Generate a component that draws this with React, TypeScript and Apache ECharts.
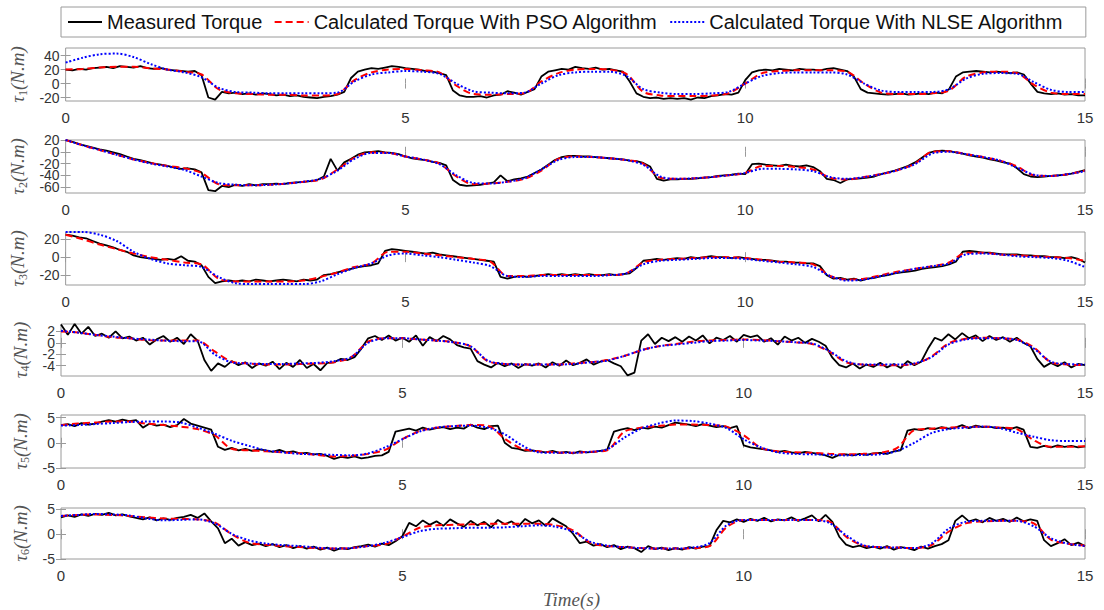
import { useEffect, useRef } from 'react';
import * as echarts from 'echarts';

// ---------- DATA ----------
const seriesNames = ['Measured Torque', 'Calculated Torque With PSO Algorithm', 'Calculated Torque With NLSE Algorithm'];
const jointIndex = ['1', '2', '3', '4', '5', '6'];
const xTickValues = [0, 5, 10, 15];
const yMins = [-25, -70, -31, -5.8, -5, -5];
const yMaxs = [51, 20, 28, 3.3, 5.5, 5.3];
const yTickValues = [[-20, 0, 20, 40], [-60, -40, -20, 0, 20], [-20, 0, 20], [-4, -2, 0, 2], [-5, 0, 5], [-5, 0, 5]];
const measuredStep = 0.1; // s
const fitStep = 0.25; // s

// measured torque, sampled every 0.1 s from 0 to 15 s
const measured1 = [
  20, 19, 21, 20, 22, 23, 24, 22, 25, 24,
  23, 25, 22, 21, 22, 20, 19, 18, 17, 18,
  12, -20, -23, -12, -14, -13, -15, -14, -16, -14,
  -15, -17, -16, -18, -17, -19, -20, -21, -19, -18,
  -16, -12, 8, 17, 20, 22, 21, 23, 25, 24,
  22, 21, 20, 18, 17, 15, 12, -10, -17, -19,
  -19, -18, -20, -17, -16, -11, -13, -16, -12, -8,
  10, 17, 19, 21, 20, 24, 22, 21, 23, 20,
  21, 19, 17, 3, -14, -19, -21, -20, -22, -21,
  -22, -21, -23, -20, -21, -18, -17, -15, -16, -13,
  5, 16, 19, 20, 19, 21, 20, 19, 21, 20,
  20, 19, 21, 22, 20, 18, 10, -8, -13, -14,
  -15, -16, -15, -14, -16, -15, -14, -15, -13, -14,
  -8, 10, 16, 17, 18, 17, 16, 17, 16, 15,
  16, 13, 0, -12, -14, -15, -14, -16, -15, -17,
  -17,
];
const measured2 = [
  20, 17, 13, 10, 7, 4, 2, -1, -4, -8,
  -12, -14, -17, -20, -22, -24, -27, -29, -28, -30,
  -35, -65, -67, -58, -60, -56, -58, -55, -57, -55,
  -55, -54, -55, -53, -52, -51, -50, -48, -42, -12,
  -32, -18, -12, -5, -1, 0, 1, -1, -2, -4,
  -8, -11, -13, -14, -17, -19, -23, -48, -56, -58,
  -57, -56, -54, -52, -40, -50, -47, -45, -42, -36,
  -30, -22, -14, -9, -7, -7, -8, -8, -9, -10,
  -11, -12, -13, -15, -16, -19, -25, -46, -49, -47,
  -47, -46, -46, -45, -44, -43, -41, -40, -39, -37,
  -38, -21, -20, -22, -23, -24, -22, -24, -25, -23,
  -26, -33, -46, -48, -53, -47, -46, -45, -44, -42,
  -38, -35, -32, -28, -24, -18, -10, -2, 1, 2,
  1, -1, -3, -6, -8, -10, -13, -15, -18, -20,
  -28, -38, -42, -43, -42, -41, -40, -39, -37, -34,
  -31,
];
const measured3 = [
  25, 24, 22, 21, 18, 15, 13, 11, 8, 6,
  2, 0, -1, -2, -3, -2, -3, 1, -4, -5,
  -9, -22, -29, -27, -26, -27, -26, -27, -25, -26,
  -27, -26, -25, -26, -27, -25, -26, -25, -20, -19,
  -17, -15, -13, -11, -10, -9, -7, 7, 9, 8,
  7, 6, 5, 4, 5, 3, 2, 1, 0, -1,
  -2, -3, -4, -5, -22, -24, -22, -21, -22, -21,
  -20, -19, -20, -19, -20, -19, -20, -19, -20, -20,
  -19, -20, -19, -18, -12, -4, -3, -2, -3, -2,
  -1, -2, 0, -1, 0, 1, 0, 0, -1, 0,
  -1, -2, -3, -3, -4, -5, -5, -6, -6, -7,
  -7, -10, -20, -24, -23, -25, -24, -26, -24, -23,
  -21, -20, -18, -17, -16, -15, -13, -12, -11, -10,
  -8, -5, 6, 7, 6, 5, 5, 4, 3, 3,
  3, 2, 2, 1, 1, 0, 0, -1, 0, -2,
  -6,
];
const measured4 = [
  3.2, 1.4, 3.3, 1.6, 2.8, 1.2, 1.6, 0.9, 2.0, 0.8,
  1.1, 0.4, 0.9, -0.3, 0.6, 1.2, 0.2, 0.9, -0.2, 1.5,
  0.4, -3.0, -4.9, -3.6, -4.2, -3.2, -3.9, -3.4, -4.4, -3.6,
  -4.0, -3.3, -4.6, -3.5, -4.2, -3.0, -4.4, -3.7, -4.8, -3.5,
  -3.4, -2.8, -3.0, -2.5, -1.0, 0.8, 1.2, 0.5, 1.3, 0.4,
  0.9, 0.2, 1.3, -0.5, 1.0, 0.3, 1.2, 0.6, -0.4, -0.8,
  -1.0, -3.2, -3.8, -4.3, -3.5, -4.1, -3.6, -4.4, -3.7, -4.0,
  -3.6, -4.3, -3.4, -4.0, -3.1, -3.9, -3.5, -2.9, -3.8, -3.3,
  -3.0, -3.6, -4.1, -5.7, -5.2, 0.4, 1.5, -0.2, 0.9, 0.3,
  1.0, 0.2, 1.1, 0.4, 1.3, -0.1, 0.9, 0.5, 1.2, 0.2,
  1.4, 1.0, 1.3, 0.2, 0.8, -0.3, 1.1, 0.4, 0.9, 0.0,
  0.7, 0.2, -0.5, -2.6, -3.9, -4.3, -3.6, -4.5, -3.8, -4.2,
  -3.5, -4.3, -3.7, -4.4, -3.2, -3.9, -3.3, -1.0, 0.9, 0.4,
  1.5, 0.6, 1.7, 0.8, 1.3, 0.3, 1.2, 0.5, 1.0, 0.2,
  0.9, 0.0, -0.6, -2.8, -4.2, -3.5, -4.1, -3.4, -4.3, -3.7,
  -3.9,
];
const measured5 = [
  3.5, 3.7, 3.3, 3.9, 3.6, 3.8, 4.2, 4.5, 4.2, 4.6,
  4.3, 4.5, 3.0, 3.8, 3.4, 3.6, 3.1, 3.5, 4.7, 3.8,
  3.4, 3.0, 2.6, -0.8, -1.4, -1.0, -1.5, -1.2, -1.6, -1.3,
  -1.5, -1.8, -1.4, -1.9, -1.7, -2.1, -2.0, -2.3, -2.2, -2.6,
  -3.2, -2.8, -3.0, -2.7, -3.1, -2.9, -2.6, -2.5, -1.8, 2.2,
  2.5, 2.8, 2.4, 3.0, 2.6, 2.9, 3.1, 2.7, 3.0, 2.8,
  3.6, 3.0, 2.7, 3.3, 3.4, 0.0, -1.0, -1.2, -1.6, -1.5,
  -1.7, -1.9, -1.6, -2.0, -1.8, -2.1, -1.7, -1.9, -1.8, -1.6,
  -1.4, 2.2, 2.6, 2.9, 2.5, 3.0, 2.8, 3.2, 3.0, 3.5,
  4.0, 3.8, 3.6, 3.3, 3.7, 3.4, 3.1, 3.3, 2.9, 3.3,
  -0.5, -0.9, -1.1, -1.3, -1.5, -1.8, -1.6, -1.9, -2.1, -1.8,
  -2.0, -2.2, -2.5, -3.0, -2.4, -2.3, -2.5, -2.2, -2.4, -2.1,
  -2.0, -2.2, -1.7, -1.5, 2.4, 2.7, 2.5, 2.9, 2.7, 3.1,
  2.8, 3.0, 3.5, 2.9, 3.4, 3.1, 3.2, 2.9, 3.0, 2.7,
  3.1, 2.6, -0.8, -1.0, -0.6, -0.9, -0.5, -0.8, -0.6, -0.9,
  -0.7,
];
const measured6 = [
  3.4, 3.8, 3.5, 4.0, 3.7, 4.1, 3.9, 4.3, 3.8, 4.0,
  3.6, 3.3, 3.0, 3.4, 2.8, 3.2, 2.9, 3.3, 3.5, 3.9,
  3.3, 4.2, 2.6, 1.2, -1.8, -0.9, -2.3, -1.6, -2.2, -1.9,
  -2.4, -2.0, -2.6, -2.2, -2.8, -2.4, -2.9, -2.5, -3.1, -2.7,
  -3.3, -2.8, -3.0, -2.6, -2.4, -2.1, -2.5, -1.9, -2.2, -1.4,
  -0.4, 2.3, 1.6, 2.8, 1.9, 2.6, 1.7, 3.0, 2.2, 1.5,
  2.7, 1.8, 2.5, 1.4, 2.9, 2.0, 2.6, 1.6, 3.1, 2.2,
  2.8, 1.7, 3.2, 2.4, 1.6, 0.1, -1.8, -1.5, -2.3, -2.0,
  -2.6, -2.2, -3.0, -2.5, -2.8, -3.6, -2.4, -3.0, -2.7, -3.2,
  -2.8, -3.1, -2.6, -2.9, -2.5, -2.4, 0.8, 2.7, 2.4, 3.0,
  2.5, 3.1, 2.7, 3.3, 2.6, 3.0, 2.8, 3.4, 2.7, 3.2,
  3.8, 2.6, 3.9, 2.5, -0.5, -2.1, -2.6, -2.3, -2.8, -2.5,
  -2.9, -2.4, -3.1, -2.6, -2.8, -3.2, -2.5, -2.9, -2.4, -2.0,
  -1.2, 2.7, 3.8, 2.6, 3.0, 2.4, 3.3, 2.7, 3.1, 2.5,
  3.4, 2.6, 3.0, 2.7, -1.2, -2.4, -1.8, -1.0, -2.2, -1.7,
  -2.4,
];

// PSO estimate, sampled every 0.25 s
const pso1 = [20, 21, 23, 24, 24, 22, 20, 17, 13, -8, -14, -15, -16, -16, -17, -17, -15, 5, 16, 20, 21, 19, 16, -3, -15, -16, -15, -14, 3, 15, 20, 21, 20, 14, -12, -17, -18, -18, -17, -14, 0, 15, 18, 19, 19, 19, 17, 0, -13, -15, -15, -14, -10, 10, 16, 17, 15, -2, -13, -15, -15];
const pso2 = [20, 11, 3, -5, -13, -19, -24, -28, -36, -55, -57, -57, -56, -54, -51, -47, -30, -10, -1, -2, -8, -13, -20, -42, -55, -54, -51, -46, -32, -12, -8, -9, -11, -14, -20, -44, -46, -45, -43, -40, -36, -24, -24, -26, -30, -44, -47, -43, -38, -31, -20, 0, 1, -4, -9, -15, -25, -40, -41, -38, -32];
const pso3 = [25, 20, 14, 9, 4, 0, -3, -6, -8, -24, -27, -27, -27, -27, -26, -22, -17, -11, -7, 6, 6, 4, 2, 0, -2, -5, -21, -21, -20, -20, -20, -20, -20, -18, -6, -3, -2, -1, 0, 0, -1, -3, -5, -6, -8, -21, -25, -24, -20, -16, -13, -10, -6, 5, 5, 3, 2, 1, 0, -1, -4];
const pso4 = [2.0, 1.8, 1.4, 1.0, 0.8, 0.5, 0.4, 0.4, 0.4, -1.5, -3.3, -3.6, -3.8, -3.8, -3.7, -3.6, -3.4, -2.5, 0.2, 0.8, 0.8, 0.6, 0.4, 0.1, -0.6, -3.2, -3.7, -3.8, -3.8, -3.8, -3.6, -3.4, -3.0, -2.3, -1.3, -0.6, -0.2, 0.2, 0.4, 0.5, 0.6, 0.5, 0.3, 0.1, -0.2, -1.5, -3.4, -3.8, -3.9, -3.9, -3.7, -2.4, -0.1, 0.7, 0.9, 0.8, 0.6, -0.8, -3.4, -3.8, -3.9];
const pso5 = [3.5, 3.8, 4.0, 4.2, 4.2, 3.8, 3.5, 3.2, 2.7, 1.5, -1.2, -1.5, -1.7, -1.9, -2.1, -2.4, -2.7, -2.6, -2.2, -1.4, 0.7, 2.3, 3.0, 3.3, 3.5, 3.4, 0.8, -1.2, -1.7, -1.9, -2.0, -1.8, -1.5, 2.2, 3.0, 3.3, 3.6, 3.6, 3.5, 3.2, 1.5, -1.0, -1.7, -1.9, -2.0, -2.2, -2.3, -2.2, -2.0, -1.0, 2.5, 2.8, 3.0, 3.1, 3.2, 3.0, 2.7, 0.5, -0.8, -0.8, -0.7];
const pso6 = [3.7, 3.9, 4.0, 3.9, 3.7, 3.4, 3.2, 3.1, 3.0, 2.4, 0.0, -1.7, -2.1, -2.4, -2.6, -2.8, -2.9, -2.8, -2.4, -2.0, -0.5, 1.3, 1.8, 1.9, 2.0, 2.1, 2.1, 2.1, 2.1, 1.8, 0.8, -1.7, -2.4, -2.6, -2.8, -2.9, -2.9, -2.8, -2.4, 1.4, 2.9, 2.9, 2.9, 2.9, 2.9, 2.6, -0.5, -2.3, -2.6, -2.7, -2.8, -2.2, 0.5, 2.2, 2.6, 2.7, 2.7, 2.2, -1.1, -1.9, -2.3];

// NLSE estimate, sampled every 0.25 s
const nlse1 = [30, 37, 42, 43, 38, 28, 20, 16, 9, -6, -12, -13, -14, -14, -14, -14, -13, 3, 13, 16, 18, 17, 14, 0, -11, -13, -14, -13, 0, 12, 16, 17, 17, 11, -8, -13, -15, -15, -14, -12, 0, 11, 15, 16, 16, 16, 13, 0, -10, -12, -12, -12, -8, 7, 14, 15, 14, 2, -9, -12, -12];
const nlse2 = [20, 11, 3, -5, -13, -20, -25, -31, -42, -53, -56, -57, -56, -54, -51, -46, -32, -12, -2, -2, -8, -13, -21, -40, -53, -54, -51, -45, -30, -14, -9, -9, -11, -14, -22, -42, -46, -45, -43, -40, -36, -29, -29, -30, -33, -43, -46, -43, -38, -31, -21, -3, 0, -4, -9, -15, -27, -39, -41, -38, -33];
const nlse3 = [28, 28, 25, 18, 6, -2, -7, -9, -11, -22, -29, -30, -30, -30, -30, -27, -19, -12, -7, 2, 4, 2, 0, -3, -6, -10, -21, -22, -21, -21, -21, -21, -20, -18, -8, -4, -3, -2, -1, -1, -2, -4, -6, -8, -11, -21, -26, -25, -21, -17, -13, -10, -7, 3, 4, 3, 1, 0, -1, -4, -11];
const nlse4 = [2.1, 1.8, 1.4, 1.1, 0.8, 0.6, 0.4, 0.3, 0.3, -2.0, -3.4, -3.6, -3.7, -3.7, -3.6, -3.5, -3.2, -2.5, 0.0, 0.8, 0.8, 0.6, 0.4, 0.1, -0.6, -3.1, -3.7, -3.8, -3.8, -3.8, -3.7, -3.4, -3.1, -2.3, -1.3, -0.6, -0.3, 0.0, 0.3, 0.4, 0.5, 0.4, 0.3, 0.1, -0.1, -1.4, -3.2, -3.8, -3.8, -3.8, -3.6, -2.5, -0.3, 0.6, 0.8, 0.8, 0.5, -1.0, -3.3, -3.7, -3.8];
const nlse5 = [3.4, 3.5, 3.7, 3.9, 4.1, 4.2, 4.2, 4.0, 3.0, 1.8, 0.4, -0.6, -1.5, -1.9, -2.2, -2.3, -2.4, -2.5, -2.1, -0.9, 0.7, 2.2, 3.0, 3.3, 3.4, 3.0, 1.7, -0.5, -1.9, -2.0, -2.0, -1.8, -1.3, 1.0, 2.8, 3.8, 4.4, 4.3, 3.8, 2.9, 0.7, -0.9, -1.9, -2.2, -2.3, -2.4, -2.5, -2.4, -2.3, -1.6, 0.0, 1.9, 2.7, 3.0, 3.2, 2.9, 2.0, 1.2, 0.5, 0.35, 0.35];
const nlse6 = [3.7, 3.9, 4.1, 4.0, 3.8, 3.2, 2.8, 2.9, 3.0, 2.2, 0.1, -1.2, -1.9, -2.2, -2.4, -2.7, -2.9, -2.8, -2.4, -1.7, -0.6, 0.6, 1.1, 1.2, 1.3, 1.3, 1.4, 1.6, 1.8, 1.5, 0.5, -1.5, -2.3, -2.6, -2.8, -2.9, -2.9, -2.7, -1.8, 1.8, 2.9, 2.9, 2.9, 2.9, 2.9, 2.3, -0.2, -2.2, -2.6, -2.7, -2.8, -1.9, 1.1, 2.5, 2.7, 2.7, 2.7, 1.6, -0.8, -1.9, -2.4];

const measuredAll = [measured1, measured2, measured3, measured4, measured5, measured6];
const psoAll = [pso1, pso2, pso3, pso4, pso5, pso6];
const nlseAll = [nlse1, nlse2, nlse3, nlse4, nlse5, nlse6];

// ---------- LAYOUT / STYLE ----------
const GRID_TOPS = [48, 140, 232, 324, 415, 508];
const GRID_HEIGHTS = [53, 53, 53, 52, 53, 51];
const GRID_LEFT = 61;
const GRID_RIGHT = 19;
const SANS = "'Liberation Sans', Arial, Helvetica, sans-serif";
const SERIF = "'Liberation Serif', 'Times New Roman', serif";
const BOX = '#9a9a9a';
const TICK_TEXT = '#333333';
const NAME_TEXT = '#555555';

function toPairs(values: number[], step: number) {
  return values.map((v, i) => [Math.round(i * step * 1000) / 1000, v]);
}

function buildOption() {
  const grid: any[] = [];
  const xAxis: any[] = [];
  const yAxis: any[] = [];
  const series: any[] = [];
  for (let i = 0; i < 6; i++) {
    grid.push({
      left: GRID_LEFT, right: GRID_RIGHT, top: GRID_TOPS[i], height: GRID_HEIGHTS[i],
      show: true, borderColor: BOX, borderWidth: 1, backgroundColor: 'transparent',
    });
    const xCommon = {
      gridIndex: i, type: 'value', min: xTickValues[0], max: xTickValues[xTickValues.length - 1], interval: 5,
      axisLine: { show: false }, splitLine: { show: false },
      axisTick: { show: true, inside: true, length: 5, lineStyle: { color: BOX, width: 1 } },
    };
    xAxis.push({
      ...xCommon, position: 'bottom',
      axisLabel: { show: true, color: TICK_TEXT, fontSize: 15, fontFamily: SANS, margin: 9, hideOverlap: false, showMinLabel: true, showMaxLabel: true },
    });
    xAxis.push({ ...xCommon, position: 'top', axisLabel: { show: false } });

    // tick labels are split over two overlapping left axes so none of them gets auto-hidden
    const ticks = yTickValues[i];
    const labelsA = ticks.filter((_, k) => k % 2 === 0);
    const labelsB = ticks.filter((_, k) => k % 2 === 1);
    const labelStyle = {
      show: true, color: TICK_TEXT, fontSize: 14, fontFamily: SANS, margin: 6,
      hideOverlap: false, showMinLabel: true, showMaxLabel: true,
    };
    const yCommon = {
      gridIndex: i, type: 'value', min: yMins[i], max: yMaxs[i],
      axisLine: { show: false }, splitLine: { show: false },
    };
    const tickStyle = { show: true, inside: true, length: 5, customValues: ticks, lineStyle: { color: BOX, width: 1 } };
    yAxis.push({
      ...yCommon, position: 'left', axisTick: tickStyle,
      axisLabel: { ...labelStyle, customValues: labelsA },
      name: `{t|τ}{s|${jointIndex[i]}}{t|(N.m)}`,
      nameLocation: 'middle', nameRotate: 90, nameGap: 30,
      nameTextStyle: {
        rich: {
          t: { fontFamily: SERIF, fontStyle: 'italic', fontSize: 19, color: NAME_TEXT, lineHeight: 22 },
          s: { fontFamily: SERIF, fontSize: 12, color: NAME_TEXT, lineHeight: 12, verticalAlign: 'bottom' },
        },
      },
    });
    yAxis.push({ ...yCommon, position: 'right', axisTick: tickStyle, axisLabel: { show: false } });
    yAxis.push({
      ...yCommon, position: 'left', offset: 0, axisTick: { show: false },
      axisLabel: labelsB.length ? { ...labelStyle, customValues: labelsB } : { show: false },
    });

    const common = { type: 'line', xAxisIndex: 2 * i, yAxisIndex: 3 * i, symbol: 'none', showSymbol: false, silent: true, clip: true };
    series.push({
      ...common, name: seriesNames[0], data: toPairs(measuredAll[i], measuredStep),
      lineStyle: { color: '#000000', width: 1.8 }, itemStyle: { color: '#000000' }, z: 2,
    });
    series.push({
      ...common, name: seriesNames[1], data: toPairs(psoAll[i], fitStep), smooth: 0.3,
      lineStyle: { color: '#ff0000', width: 2, type: [7, 4] }, itemStyle: { color: '#ff0000' }, z: 3,
    });
    series.push({
      ...common, name: seriesNames[2], data: toPairs(nlseAll[i], fitStep), smooth: 0.3,
      lineStyle: { color: '#0000ff', width: 2, type: [2, 2] }, itemStyle: { color: '#0000ff' }, z: 4,
    });
  }
  return {
    animation: false,
    backgroundColor: '#ffffff',
    legend: {
      data: seriesNames, left: 61, top: 7, orient: 'horizontal',
      itemWidth: 34, itemHeight: 14, itemGap: 11,
      padding: [5, 22, 5, 6],
      borderColor: BOX, borderWidth: 1, backgroundColor: '#ffffff',
      itemStyle: { opacity: 0 },
      textStyle: { fontFamily: SANS, fontSize: 20, color: '#111111' },
      selectedMode: false,
    },
    grid, xAxis, yAxis, series,
    graphic: [
      {
        type: 'text', left: 543, top: 590,
        style: { text: 'Time(s)', font: `italic 19px ${SERIF}`, fill: NAME_TEXT },
      },
    ],
  };
}

export default function App() {
  const ref = useRef<HTMLDivElement>(null);
  useEffect(() => {
    if (!ref.current) return;
    const chart = echarts.init(ref.current, null, { renderer: 'svg' });
    chart.setOption(buildOption() as any);
    return () => chart.dispose();
  }, []);
  return <div ref={ref} style={{ position: 'fixed', left: 0, top: 0, width: 1104, height: 610, background: '#fff' }} />;
}
